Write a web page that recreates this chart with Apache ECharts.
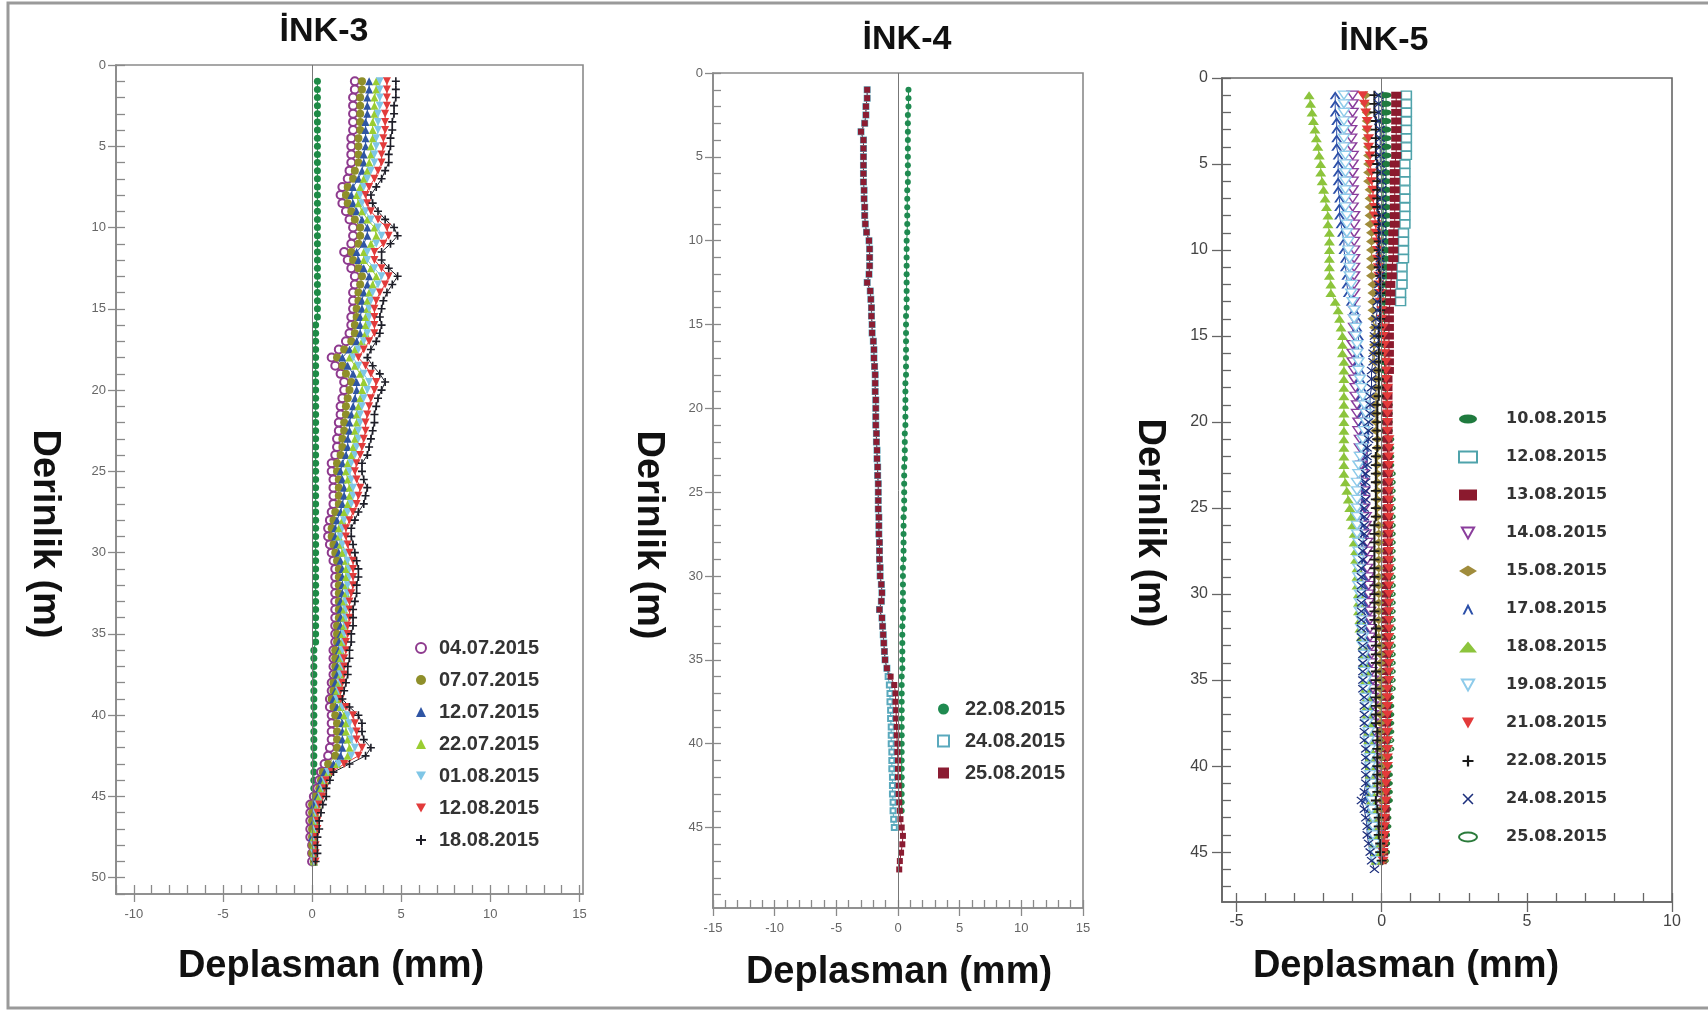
<!DOCTYPE html>
<html>
<head>
<meta charset="utf-8">
<title>İNK-3 / İNK-4 / İNK-5</title>
<script src="https://cdn.jsdelivr.net/npm/echarts@6/dist/echarts.min.js"></script>
<style>
  html, body { margin: 0; padding: 0; background: #fff; }
  #main { width: 1708px; height: 1011px; }
</style>
</head>
<body>
<div id="main"></div>
<script>
// okuma derinlikleri (m), 0.5 m aralik
const depth = [1,1.5,2,2.5,3,3.5,4,4.5,5,5.5, 6,6.5,7,7.5,8,8.5,9,9.5,10,10.5,
  11,11.5,12,12.5,13,13.5,14,14.5,15,15.5, 16,16.5,17,17.5,18,18.5,19,19.5,20,20.5,
  21,21.5,22,22.5,23,23.5,24,24.5,25,25.5, 26,26.5,27,27.5,28,28.5,29,29.5,30,30.5,
  31,31.5,32,32.5,33,33.5,34,34.5,35,35.5, 36,36.5,37,37.5,38,38.5,39,39.5,40,40.5,
  41,41.5,42,42.5,43,43.5,44,44.5,45,45.5, 46,46.5,47,47.5,48,48.5,49];

// ---- İNK-3 deplasman (mm) ----
const ink3Ref = [0.3,0.3,0.3,0.3,0.3,0.3,0.3,0.3,0.3,0.3, 0.3,0.3,0.3,0.3,0.3,0.3,0.3,0.3,0.3,0.3,
  0.3,0.3,0.3,0.3,0.3,0.3,0.3,0.3,0.3,0.3, 0.2,0.2,0.2,0.2,0.2,0.2,0.2,0.2,0.2,0.2,
  0.2,0.2,0.2,0.2,0.2,0.2,0.2,0.2,0.2,0.2, 0.2,0.2,0.2,0.2,0.2,0.2,0.2,0.2,0.2,0.2,
  0.2,0.2,0.2,0.2,0.2,0.2,0.2,0.2,0.2,0.2, 0.1,0.1,0.1,0.1,0.1,0.1,0.1,0.1,0.1,0.1,
  0.1,0.1,0.1,0.1,0.1,0.1,0.1,0.1,0.1,0.1];
const ink3_0407 = [2.4,2.4,2.3,2.3,2.3,2.3,2.3,2.2,2.2,2.2, 2.2,2.1,2.0,1.7,1.6,1.7,1.9,2.1,2.3,2.3,
  2.2,1.8,2.0,2.2,2.4,2.4,2.3,2.3,2.3,2.2, 2.2,2.1,1.9,1.5,1.1,1.3,1.6,1.8,1.8,1.7,
  1.6,1.6,1.5,1.5,1.4,1.4,1.3,1.1,1.1,1.2, 1.2,1.2,1.2,1.1,1.0,0.9,0.9,1.0,1.1,1.2,
  1.3,1.3,1.3,1.3,1.3,1.3,1.3,1.3,1.3,1.3, 1.2,1.2,1.2,1.2,1.1,1.1,1.0,1.0,1.1,1.1,
  1.1,1.1,1.0,0.9,0.7,0.5,0.4,0.3,0.1,-0.1, -0.1,-0.1,-0.1,-0.1,0.0,0.0,0.0];
const ink3_0707 = [2.8,2.8,2.7,2.7,2.7,2.7,2.7,2.6,2.6,2.6, 2.6,2.4,2.3,2.0,1.9,2.0,2.2,2.4,2.7,2.7,
  2.6,2.2,2.3,2.6,2.8,2.7,2.6,2.6,2.5,2.5, 2.4,2.4,2.2,1.8,1.4,1.7,1.9,2.2,2.1,2.0,
  1.9,1.9,1.8,1.8,1.7,1.7,1.6,1.4,1.4,1.5, 1.5,1.5,1.5,1.3,1.2,1.1,1.1,1.2,1.3,1.4,
  1.5,1.5,1.5,1.5,1.5,1.5,1.5,1.4,1.4,1.4, 1.3,1.3,1.3,1.3,1.2,1.2,1.1,1.2,1.3,1.4,
  1.4,1.4,1.4,1.3,0.9,0.6,0.5,0.4,0.2,0.0, 0.0,0.0,0.0,0.0,0.0,0.0,0.1];
const ink3_1207 = [3.2,3.2,3.1,3.1,3.1,3.0,3.0,3.0,3.0,2.9, 2.9,2.8,2.6,2.3,2.2,2.3,2.5,2.8,3.1,3.1,
  2.9,2.5,2.6,2.9,3.2,3.1,2.9,2.8,2.8,2.7, 2.7,2.7,2.5,2.1,1.7,2.0,2.3,2.5,2.5,2.4,
  2.3,2.2,2.1,2.1,2.0,2.0,1.9,1.7,1.6,1.7, 1.8,1.8,1.7,1.6,1.4,1.3,1.3,1.4,1.5,1.6,
  1.7,1.7,1.7,1.7,1.6,1.6,1.6,1.6,1.6,1.5, 1.5,1.5,1.4,1.4,1.3,1.3,1.2,1.4,1.6,1.7,
  1.7,1.7,1.7,1.6,1.2,0.7,0.5,0.4,0.3,0.1, 0.1,0.1,0.1,0.0,0.1,0.1,0.1];
const ink3_2207 = [3.6,3.6,3.5,3.5,3.5,3.4,3.4,3.4,3.3,3.3, 3.2,3.1,2.9,2.7,2.5,2.6,2.8,3.1,3.5,3.6,
  3.3,2.9,2.9,3.3,3.6,3.4,3.2,3.1,3.1,3.0, 3.0,3.0,2.8,2.4,2.1,2.4,2.7,2.9,2.8,2.7,
  2.6,2.5,2.5,2.4,2.4,2.3,2.2,2.0,1.9,2.0, 2.1,2.1,2.0,1.8,1.7,1.5,1.5,1.6,1.7,1.9,
  1.9,1.9,1.9,1.9,1.8,1.8,1.8,1.8,1.7,1.7, 1.6,1.6,1.6,1.6,1.5,1.4,1.4,1.6,1.8,1.9,
  1.9,2.0,2.1,2.0,1.4,0.9,0.7,0.5,0.4,0.3, 0.2,0.2,0.1,0.1,0.1,0.1,0.1];
const ink3_0108 = [3.8,3.8,3.8,3.8,3.7,3.7,3.7,3.6,3.6,3.5, 3.5,3.3,3.1,2.9,2.7,2.8,3.0,3.3,3.7,3.9,
  3.6,3.1,3.1,3.5,3.9,3.7,3.4,3.3,3.2,3.2, 3.2,3.1,2.9,2.6,2.3,2.6,2.9,3.2,3.1,2.9,
  2.8,2.7,2.7,2.6,2.6,2.5,2.4,2.2,2.1,2.2, 2.3,2.3,2.2,2.0,1.8,1.7,1.6,1.7,1.9,2.0,
  2.1,2.1,2.0,2.0,1.9,1.9,1.9,1.9,1.8,1.8, 1.7,1.7,1.7,1.6,1.6,1.5,1.4,1.7,2.0,2.1,
  2.2,2.2,2.4,2.2,1.5,0.9,0.7,0.6,0.5,0.3, 0.2,0.2,0.2,0.1,0.1,0.1,0.1];
const ink3_1208 = [4.2,4.2,4.2,4.2,4.1,4.1,4.1,4.0,4.0,3.9, 3.9,3.7,3.5,3.2,3.0,3.1,3.3,3.7,4.2,4.3,
  4.0,3.5,3.5,3.9,4.3,4.1,3.8,3.6,3.5,3.5, 3.5,3.5,3.2,2.9,2.6,3.0,3.3,3.6,3.5,3.3,
  3.2,3.1,3.0,3.0,2.9,2.8,2.7,2.5,2.4,2.5, 2.7,2.6,2.5,2.3,2.1,1.9,1.9,2.0,2.1,2.3,
  2.3,2.3,2.3,2.2,2.1,2.1,2.1,2.0,2.0,1.9, 1.9,1.8,1.8,1.8,1.7,1.6,1.6,1.9,2.3,2.4,
  2.5,2.5,2.8,2.6,1.8,1.1,0.8,0.7,0.6,0.4, 0.3,0.3,0.3,0.2,0.2,0.2,0.2];
const ink3_1808 = [4.7,4.7,4.7,4.6,4.6,4.5,4.5,4.4,4.4,4.3, 4.3,4.1,3.9,3.6,3.3,3.4,3.7,4.1,4.6,4.8,
  4.4,3.9,3.9,4.3,4.8,4.5,4.2,4.0,3.9,3.8, 3.9,3.8,3.6,3.3,3.1,3.4,3.8,4.1,3.9,3.7,
  3.6,3.5,3.5,3.4,3.3,3.2,3.1,2.8,2.8,2.9, 3.1,3.0,2.9,2.6,2.4,2.2,2.2,2.3,2.4,2.5,
  2.6,2.6,2.5,2.5,2.4,2.3,2.3,2.3,2.2,2.2, 2.1,2.1,2.0,2.0,1.9,1.8,1.7,2.1,2.6,2.8,
  2.8,2.9,3.3,3.0,2.1,1.2,1.0,0.8,0.8,0.6, 0.5,0.4,0.4,0.3,0.3,0.3,0.2];

// ---- İNK-4 deplasman (mm) ----
const ink4_2208 = [0.85,0.85,0.85,0.8,0.8,0.8,0.8,0.8,0.8,0.8, 0.8,0.8,0.75,0.75,0.75,0.75,0.75,0.75,0.7,0.7,
  0.7,0.7,0.7,0.7,0.7,0.7,0.7,0.65,0.65,0.65, 0.65,0.65,0.65,0.65,0.65,0.6,0.6,0.6,0.6,0.6,
  0.6,0.55,0.55,0.55,0.55,0.5,0.5,0.5,0.5,0.5, 0.5,0.45,0.45,0.45,0.45,0.45,0.45,0.4,0.4,0.4,
  0.4,0.4,0.4,0.4,0.35,0.35,0.35,0.35,0.35,0.35, 0.3,0.3,0.3,0.3,0.3,0.3,0.3,0.3,0.3,0.3,
  0.3,0.3,0.3,0.3,0.3,0.3,0.3];
const ink4_2408 = [-2.5,-2.5,-2.6,-2.6,-2.7,-3.0,-2.8,-2.8,-2.8,-2.8, -2.8,-2.8,-2.75,-2.75,-2.7,-2.7,-2.65,-2.55,-2.35,-2.3,
  -2.3,-2.3,-2.35,-2.5,-2.25,-2.2,-2.15,-2.15,-2.1,-2.1, -2.0,-1.95,-1.95,-1.9,-1.85,-1.85,-1.85,-1.8,-1.8,-1.8,
  -1.8,-1.75,-1.75,-1.7,-1.7,-1.65,-1.65,-1.6,-1.6,-1.6, -1.6,-1.55,-1.55,-1.55,-1.5,-1.5,-1.5,-1.45,-1.45,-1.35,
  -1.3,-1.35,-1.5,-1.3,-1.25,-1.2,-1.15,-1.1,-1.05,-0.9, -0.8,-0.7,-0.65,-0.65,-0.6,-0.6,-0.55,-0.55,-0.55,-0.5,
  -0.5,-0.5,-0.45,-0.45,-0.45,-0.4,-0.4,-0.35,-0.3];
const ink4_2508 = [-2.5,-2.5,-2.6,-2.6,-2.7,-3.0,-2.8,-2.8,-2.8,-2.8, -2.8,-2.8,-2.75,-2.75,-2.7,-2.7,-2.65,-2.55,-2.35,-2.3,
  -2.3,-2.3,-2.35,-2.5,-2.25,-2.2,-2.15,-2.15,-2.1,-2.1, -2.0,-1.95,-1.95,-1.9,-1.85,-1.85,-1.85,-1.8,-1.8,-1.8,
  -1.8,-1.75,-1.75,-1.7,-1.7,-1.65,-1.65,-1.6,-1.6,-1.6, -1.6,-1.55,-1.55,-1.55,-1.5,-1.5,-1.5,-1.45,-1.45,-1.35,
  -1.3,-1.35,-1.5,-1.3,-1.25,-1.2,-1.15,-1.1,-1.05,-0.9, -0.6,-0.3,-0.2,-0.2,-0.15,-0.15,-0.1,-0.1,-0.05,-0.05,
  0.0,0.0,0.0,0.05,0.05,0.1,0.15,0.2,0.3,0.4, 0.35,0.25,0.15,0.1];

// ---- İNK-5 deplasman (mm) ----
const ink5_1008 = [0.15,0.15,0.15,0.15,0.15,0.15,0.15,0.15,0.15,0.15, 0.15,0.15,0.15,0.15,0.15,0.15,0.15,0.15,0.15,0.15,
  0.15,0.15,0.15,0.15,0.1,0.1,0.1,0.1,0.1,0.1, 0.1,0.1,0.1,0.1,0.1,0.15,0.15,0.15,0.15,0.15,
  0.15,0.2,0.2,0.2,0.2,0.2,0.2,0.2,0.2,0.2, 0.2,0.2,0.2,0.2,0.2,0.2,0.2,0.2,0.2,0.2,
  0.2,0.2,0.2,0.2,0.2,0.2,0.2,0.2,0.2,0.2, 0.2,0.2,0.2,0.2,0.2,0.15,0.15,0.15,0.15,0.15,
  0.15,0.15,0.15,0.1,0.1,0.1,0.1,0.1,0.1,0.05];
const ink5_1208 = [0.85,0.85,0.85,0.85,0.85,0.85,0.85,0.85,0.8,0.8, 0.8,0.8,0.8,0.8,0.8,0.8,0.75,0.75,0.75,0.75,
  0.7,0.7,0.7,0.65,0.65];
const ink5_1308 = [0.5,0.5,0.5,0.5,0.5,0.5,0.5,0.5,0.45,0.45, 0.45,0.45,0.45,0.45,0.45,0.45,0.4,0.4,0.4,0.4,
  0.35,0.35,0.3,0.3,0.3,0.25,0.25,0.25,0.25,0.25, 0.25,0.25,0.25,0.2,0.2,0.2,0.2,0.2,0.2,0.2,
  0.2,0.2,0.2,0.2,0.2,0.2,0.2,0.2,0.2,0.2, 0.2,0.2,0.2,0.2,0.2,0.2,0.15,0.15,0.15,0.15,
  0.15,0.15,0.15,0.15,0.15,0.15,0.15,0.15,0.15,0.15, 0.15,0.15,0.15,0.15,0.1,0.1,0.1,0.1,0.1,0.1,
  0.1,0.1,0.1,0.1,0.1,0.05,0.05,0.05,0.05,0.0];
const ink5_1408 = [-1.0,-1.0,-1.0,-1.05,-1.05,-1.05,-1.05,-1.0,-1.0,-1.0, -1.0,-1.0,-1.0,-1.0,-0.95,-0.95,-0.95,-0.95,-0.95,-0.95,
  -0.95,-0.95,-0.95,-0.95,-0.95,-0.95,-0.95,-0.95,-0.95,-1.0, -1.0,-1.0,-0.95,-0.95,-0.9,-0.9,-0.85,-0.85,-0.8,-0.8,
  -0.75,-0.75,-0.7,-0.7,-0.65,-0.65,-0.6,-0.6,-0.6,-0.55, -0.55,-0.55,-0.5,-0.5,-0.5,-0.5,-0.45,-0.45,-0.45,-0.45,
  -0.4,-0.4,-0.4,-0.4,-0.35,-0.35,-0.35,-0.35,-0.3,-0.3, -0.3,-0.3,-0.3,-0.3,-0.25,-0.25,-0.25,-0.25,-0.25,-0.25,
  -0.2,-0.2,-0.2,-0.2,-0.2,-0.2,-0.15,-0.15,-0.15,-0.1];
const ink5_1508 = [-0.55,-0.55,-0.5,-0.5,-0.5,-0.5,-0.45,-0.45,-0.45,-0.45, -0.45,-0.4,-0.4,-0.4,-0.4,-0.4,-0.35,-0.35,-0.35,-0.35,
  -0.35,-0.35,-0.3,-0.3,-0.3,-0.3,-0.3,-0.25,-0.25,-0.25, -0.25,-0.25,-0.2,-0.2,-0.2,-0.2,-0.2,-0.2,-0.2,-0.2,
  -0.15,-0.15,-0.15,-0.15,-0.15,-0.15,-0.15,-0.15,-0.15,-0.15, -0.1,-0.1,-0.1,-0.1,-0.1,-0.1,-0.1,-0.1,-0.1,-0.1,
  -0.1,-0.1,-0.1,-0.1,-0.05,-0.05,-0.05,-0.05,-0.05,-0.05, -0.05,-0.05,-0.05,-0.05,-0.05,-0.05,-0.05,0.0,0.0,0.0,
  0.0,0.0,0.0,0.0,0.0,0.0,0.0,0.05,0.05,0.05];
const ink5_1708 = [-1.6,-1.6,-1.6,-1.55,-1.55,-1.55,-1.55,-1.5,-1.5,-1.5, -1.5,-1.5,-1.45,-1.45,-1.45,-1.4,-1.35,-1.3,-1.3,-1.25,
  -1.25,-1.2,-1.2,-1.15,-1.05,-0.95,-0.85,-0.85,-0.8,-0.8, -0.8,-0.8,-0.75,-0.75,-0.7,-0.7,-0.65,-0.65,-0.65,-0.6,
  -0.6,-0.6,-0.65,-0.65,-0.65,-0.7,-0.7,-0.7,-0.7,-0.7, -0.7,-0.7,-0.7,-0.7,-0.7,-0.7,-0.65,-0.65,-0.65,-0.65,
  -0.6,-0.6,-0.6,-0.6,-0.55,-0.55,-0.55,-0.5,-0.5,-0.5, -0.45,-0.45,-0.45,-0.4,-0.4,-0.4,-0.4,-0.35,-0.35,-0.35,
  -0.4,-0.45,-0.55,-0.4,-0.35,-0.35,-0.3,-0.25,-0.2,-0.15];
const ink5_1808 = [-2.5,-2.45,-2.4,-2.35,-2.3,-2.25,-2.2,-2.15,-2.1,-2.1, -2.05,-2.0,-1.95,-1.9,-1.85,-1.85,-1.8,-1.8,-1.8,-1.8,
  -1.8,-1.8,-1.75,-1.75,-1.6,-1.5,-1.45,-1.4,-1.35,-1.35, -1.35,-1.3,-1.3,-1.3,-1.3,-1.3,-1.3,-1.3,-1.3,-1.3,
  -1.3,-1.3,-1.3,-1.3,-1.3,-1.25,-1.2,-1.15,-1.1,-1.05, -1.0,-0.95,-0.95,-0.9,-0.9,-0.85,-0.85,-0.85,-0.8,-0.8,
  -0.8,-0.75,-0.75,-0.7,-0.65,-0.6,-0.6,-0.55,-0.55,-0.55, -0.5,-0.5,-0.5,-0.45,-0.45,-0.45,-0.4,-0.4,-0.4,-0.4,
  -0.35,-0.35,-0.35,-0.3,-0.3,-0.3,-0.25,-0.25,-0.2,-0.2];
const ink5_1908 = [-1.3,-1.3,-1.3,-1.3,-1.3,-1.3,-1.3,-1.25,-1.25,-1.25, -1.25,-1.25,-1.25,-1.25,-1.2,-1.2,-1.2,-1.15,-1.15,-1.1,
  -1.1,-1.1,-1.05,-1.05,-1.0,-0.95,-0.95,-0.9,-0.9,-0.85, -0.85,-0.8,-0.8,-0.75,-0.7,-0.65,-0.6,-0.55,-0.55,-0.6,
  -0.65,-0.7,-0.75,-0.8,-0.8,-0.85,-0.85,-0.85,-0.85,-0.85, -0.85,-0.85,-0.8,-0.8,-0.8,-0.8,-0.8,-0.8,-0.75,-0.75,
  -0.75,-0.7,-0.7,-0.65,-0.65,-0.6,-0.6,-0.6,-0.55,-0.55, -0.55,-0.5,-0.5,-0.5,-0.45,-0.45,-0.4,-0.4,-0.4,-0.4,
  -0.35,-0.35,-0.35,-0.35,-0.3,-0.3,-0.3,-0.25,-0.25,-0.2];
const ink5_2108 = [-0.65,-0.6,-0.55,-0.5,-0.5,-0.45,-0.45,-0.4,-0.4,-0.35, -0.35,-0.3,-0.3,-0.25,-0.25,-0.2,-0.2,-0.15,-0.15,-0.15,
  -0.12,-0.1,-0.1,-0.05,-0.05,0.0,0.0,0.05,0.05,0.1, 0.1,0.15,0.15,0.15,0.2,0.2,0.2,0.2,0.2,0.2,
  0.25,0.25,0.25,0.25,0.25,0.25,0.25,0.25,0.25,0.25, 0.25,0.25,0.25,0.25,0.25,0.25,0.25,0.25,0.25,0.25,
  0.25,0.25,0.25,0.25,0.25,0.25,0.25,0.25,0.25,0.2, 0.2,0.2,0.2,0.2,0.2,0.2,0.2,0.2,0.2,0.15,
  0.15,0.15,0.15,0.1,0.1,0.1,0.1,0.1,0.05,0.05];
const ink5_2208 = [-0.25,-0.25,-0.25,-0.2,-0.2,-0.2,-0.2,-0.2,-0.15,-0.15, -0.15,-0.15,-0.15,-0.15,-0.1,-0.1,-0.1,-0.1,-0.1,-0.1,
  -0.1,-0.05,-0.05,-0.05,-0.05,-0.05,-0.05,-0.1,-0.1,-0.1, -0.1,-0.1,-0.1,-0.1,-0.1,-0.1,-0.15,-0.15,-0.15,-0.15,
  -0.15,-0.15,-0.2,-0.2,-0.2,-0.2,-0.2,-0.2,-0.2,-0.2, -0.25,-0.25,-0.25,-0.25,-0.25,-0.25,-0.25,-0.25,-0.25,-0.25,
  -0.25,-0.25,-0.2,-0.2,-0.2,-0.2,-0.2,-0.2,-0.2,-0.2, -0.2,-0.2,-0.2,-0.2,-0.15,-0.15,-0.15,-0.15,-0.15,-0.15,
  -0.15,-0.15,-0.2,-0.15,-0.1,-0.1,-0.1,-0.05,-0.05,0.0];
const ink5_2408 = [-0.1,-0.1,-0.1,-0.1,-0.05,-0.05,-0.05,-0.05,-0.05,0.0, 0.0,0.0,0.0,0.0,0.0,0.0,0.0,0.0,-0.05,-0.05,
  -0.05,-0.05,-0.1,-0.1,-0.15,-0.15,-0.2,-0.2,-0.25,-0.25, -0.3,-0.3,-0.35,-0.35,-0.35,-0.4,-0.4,-0.4,-0.45,-0.45,
  -0.45,-0.5,-0.5,-0.5,-0.55,-0.55,-0.55,-0.55,-0.6,-0.6, -0.6,-0.6,-0.65,-0.65,-0.65,-0.7,-0.7,-0.7,-0.7,-0.7,
  -0.7,-0.7,-0.7,-0.7,-0.65,-0.65,-0.65,-0.65,-0.65,-0.65, -0.6,-0.6,-0.6,-0.6,-0.6,-0.6,-0.55,-0.55,-0.55,-0.55,
  -0.55,-0.6,-0.7,-0.6,-0.55,-0.5,-0.5,-0.45,-0.4,-0.35, -0.25];
const ink5_2508 = [0.05,0.05,0.05,0.05,0.05,0.05,0.05,0.05,0.05,0.05, 0.05,0.05,0.05,0.05,0.05,0.05,0.05,0.05,0.05,0.05,
  0.05,0.05,0.05,0.05,0.05,0.05,0.1,0.1,0.1,0.1, 0.1,0.1,0.15,0.15,0.15,0.15,0.2,0.2,0.2,0.2,
  0.25,0.25,0.25,0.25,0.3,0.3,0.3,0.3,0.3,0.3, 0.3,0.3,0.3,0.3,0.3,0.3,0.3,0.3,0.3,0.3,
  0.3,0.3,0.3,0.3,0.3,0.3,0.3,0.3,0.3,0.3, 0.25,0.25,0.25,0.25,0.25,0.25,0.25,0.2,0.2,0.2,
  0.2,0.2,0.2,0.15,0.15,0.15,0.1,0.1,0.1,0.05];

// eksen tikleri
const ink3XMajor = [-10, -5, 0, 5, 10, 15];
const ink3XMinor = [-11,-10,-9,-8,-7,-6,-5,-4,-3,-2,-1,0,1,2,3,4,5,6,7,8,9,10,11,12,13,14,15];
const ink3YMajor = [0, 5, 10, 15, 20, 25, 30, 35, 40, 45, 50];
const ink3YMinor = [0,1,2,3,4,5,6,7,8,9,10,11,12,13,14,15,16,17,18,19,20,21,22,23,24,25,26,27,28,29,30,
  31,32,33,34,35,36,37,38,39,40,41,42,43,44,45,46,47,48,49,50,51];
const ink4XMajor = [-15, -10, -5, 0, 5, 10, 15];
const ink4XMinor = [-15,-14,-13,-12,-11,-10,-9,-8,-7,-6,-5,-4,-3,-2,-1,0,1,2,3,4,5,6,7,8,9,10,11,12,13,14,15];
const ink4YMajor = [0, 5, 10, 15, 20, 25, 30, 35, 40, 45];
const ink4YMinor = [0,1,2,3,4,5,6,7,8,9,10,11,12,13,14,15,16,17,18,19,20,21,22,23,24,25,26,27,28,29,30,
  31,32,33,34,35,36,37,38,39,40,41,42,43,44,45,46,47,48,49];
const ink5XMajor = [-5, 0, 5, 10];
const ink5XMinor = [-5,-4,-3,-2,-1,0,1,2,3,4,5,6,7,8,9,10];
const ink5YMajor = [0, 5, 10, 15, 20, 25, 30, 35, 40, 45];
const ink5YMinor = [0,1,2,3,4,5,6,7,8,9,10,11,12,13,14,15,16,17,18,19,20,21,22,23,24,25,26,27,28,29,30,
  31,32,33,34,35,36,37,38,39,40,41,42,43,44,45,46,47];

const FONT = '"Liberation Sans", Arial, sans-serif';

// semboller
const INV_TRI = 'path://M0,0 L10,0 L5,9 Z';
const PLUS = 'path://M4,0 H6 V4 H10 V6 H6 V10 H4 V6 H0 V4 H4 Z';
const CROSS = 'path://M0,1 L1,0 L5,4 L9,0 L10,1 L6,5 L10,9 L9,10 L5,6 L1,10 L0,9 L4,5 Z';
const CARET = 'path://M0,10 L5,0 L10,10 L8,10 L5,4 L2,10 Z';
const ELLIPSE = 'path://M0,5 A10,5 0 1,0 20,5 A10,5 0 1,0 0,5 Z';

function pts(vals) {
  return vals.map((v, i) => [v, depth[i]]);
}

function makeAxes(dim, grid, min, max, major, minor, o) {
  const isY = dim === 'y';
  const main = {
    gridIndex: grid, type: 'value', min: min, max: max, inverse: isY,
    position: isY ? 'left' : 'bottom',
    axisLine: { show: true, onZero: false, lineStyle: { color: o.color, width: 1.6 } },
    axisTick: { show: true, inside: false, length: o.majorLen, customValues: major,
      lineStyle: { color: o.color, width: 1.3 } },
    axisLabel: { show: true, customValues: major, margin: o.margin, color: o.labelColor,
      fontSize: o.fontSize, fontFamily: FONT },
    splitLine: { show: false }
  };
  const small = {
    gridIndex: grid, type: 'value', min: min, max: max, inverse: isY,
    position: isY ? 'left' : 'bottom',
    axisLine: { show: false, onZero: false },
    axisTick: { show: true, inside: true, length: o.minorLen, customValues: minor,
      lineStyle: { color: o.color, width: 1.3 } },
    axisLabel: { show: false },
    splitLine: { show: false }
  };
  return [main, small];
}

function ser(name, vals, axis, color, symbol, size, empty) {
  return {
    name: name, type: 'line', xAxisIndex: axis, yAxisIndex: axis,
    data: pts(vals), symbol: symbol, symbolSize: size, showSymbol: true,
    lineStyle: { color: color, width: 1 },
    itemStyle: empty ? { color: '#fff', borderColor: color, borderWidth: 1.4 } : { color: color, borderWidth: 0 },
    emphasis: { disabled: true }, animation: false
  };
}

const zeroLine = {
  silent: true, symbol: ['none', 'none'], label: { show: false },
  lineStyle: { color: '#777', width: 1, type: 'solid' },
  data: [{ xAxis: 0 }]
};

const o3 = { color: '#8a8a8a', labelColor: '#666', fontSize: 13, margin: 14, majorLen: 8, minorLen: 9 };
const o4 = { color: '#8a8a8a', labelColor: '#666', fontSize: 13, margin: 14, majorLen: 8, minorLen: 8 };
const o5 = { color: '#666', labelColor: '#444', fontSize: 16, margin: 12, majorLen: 10, minorLen: 9 };

const xAxes = [].concat(
  makeAxes('x', 0, -11, 15.2, ink3XMajor, ink3XMinor, o3),
  makeAxes('x', 1, -15, 15, ink4XMajor, ink4XMinor, o4),
  makeAxes('x', 2, -5.5, 10, ink5XMajor, ink5XMinor, o5)
);
const yAxes = [].concat(
  makeAxes('y', 0, 0, 51, ink3YMajor, ink3YMinor, Object.assign({}, o3, { margin: 10 })),
  makeAxes('y', 1, 0, 49.8, ink4YMajor, ink4YMinor, Object.assign({}, o4, { margin: 10 })),
  makeAxes('y', 2, 0, 47.9, ink5YMajor, ink5YMinor, Object.assign({}, o5, { margin: 14 }))
);

// İNK-3 serileri
const s3 = [
  ser('3|04.07.2015', ink3_0407, 0, '#8e3a8e', 'emptyCircle', 8, false),
  ser('3|07.07.2015', ink3_0707, 0, '#8f8f2a', 'circle', 8, false),
  ser('3|12.07.2015', ink3_1207, 0, '#2f55a4', 'triangle', 8, false),
  ser('3|22.07.2015', ink3_2207, 0, '#9acd32', 'triangle', 8, false),
  ser('3|01.08.2015', ink3_0108, 0, '#7fc6e6', INV_TRI, 8, false),
  ser('3|12.08.2015', ink3_1208, 0, '#e23b3b', INV_TRI, 8, false),
  ser('3|18.08.2015', ink3_1808, 0, '#1e1e28', PLUS, 8, false)
];
const ref3 = ser('3|ref', ink3Ref, 0, '#1e8a46', 'circle', 7, false);
ref3.markLine = zeroLine;

// İNK-4 serileri
const s4 = [
  ser('4|22.08.2015', ink4_2208, 2, '#1f8a50', 'circle', 6, false),
  ser('4|24.08.2015', ink4_2408, 2, '#5aa9bd', 'emptyRect', 5, false),
  ser('4|25.08.2015', ink4_2508, 2, '#8b1c32', 'rect', 6, false)
];
s4[0].markLine = zeroLine;

// İNK-5 serileri (lejant sirasi)
const s5 = [
  ser('5|10.08.2015', ink5_1008, 4, '#1f7a3e', ELLIPSE, [11, 6], false),
  ser('5|12.08.2015', ink5_1208, 4, '#4fa3ab', 'rect', [10, 8], true),
  ser('5|13.08.2015', ink5_1308, 4, '#8b1a2e', 'rect', [10, 7], false),
  ser('5|14.08.2015', ink5_1408, 4, '#8a3d9c', INV_TRI, [11, 8], true),
  ser('5|15.08.2015', ink5_1508, 4, '#a08c3c', 'diamond', [11, 8], false),
  ser('5|17.08.2015', ink5_1708, 4, '#2b4fa8', CARET, [11, 8], false),
  ser('5|18.08.2015', ink5_1808, 4, '#8cc43c', 'triangle', [11, 8], false),
  ser('5|19.08.2015', ink5_1908, 4, '#8ecbea', INV_TRI, [11, 8], true),
  ser('5|21.08.2015', ink5_2108, 4, '#e33a3a', INV_TRI, [11, 8], false),
  ser('5|22.08.2015', ink5_2208, 4, '#1a1a1a', PLUS, [10, 9], false),
  ser('5|24.08.2015', ink5_2408, 4, '#1c2f7c', CROSS, [10, 8], false),
  ser('5|25.08.2015', ink5_2508, 4, '#2a7a3a', ELLIPSE, [9, 5], true)
];
s5[0].markLine = zeroLine;
// cizim sirasi: yesil seriler altta
const s5Draw = [s5[11], s5[0]].concat(s5.slice(1, 11));

function legendData(list, icons) {
  return list.map((s, i) => ({ name: s.name, icon: icons[i] }));
}

const chart = echarts.init(document.getElementById('main'));
chart.setOption({
  backgroundColor: '#fff',
  animation: false,
  grid: [
    { left: 116, top: 65, width: 467, height: 829, show: true, borderColor: '#8a8a8a', borderWidth: 1.6, backgroundColor: 'transparent' },
    { left: 713, top: 73, width: 370, height: 835, show: true, borderColor: '#8a8a8a', borderWidth: 1.6, backgroundColor: 'transparent' },
    { left: 1222, top: 78, width: 450, height: 824, show: true, borderColor: '#666', borderWidth: 1.6, backgroundColor: 'transparent' }
  ],
  xAxis: xAxes,
  yAxis: yAxes,
  legend: [
    {
      orient: 'vertical', left: 415, top: 638, padding: 0, itemGap: 12, itemWidth: 10, itemHeight: 10,
      selectedMode: false,
      data: legendData(s3, ['emptyCircle', 'circle', 'triangle', 'triangle', INV_TRI, INV_TRI, PLUS]),
      formatter: n => n.split('|')[1],
      textStyle: { fontFamily: FONT, fontWeight: 'bold', fontSize: 20, lineHeight: 20, color: '#333', padding: [0, 0, 0, 8] }
    },
    {
      orient: 'vertical', left: 937, top: 699, padding: 0, itemGap: 12, itemWidth: 11, itemHeight: 11,
      selectedMode: false,
      data: legendData(s4, ['circle', 'emptyRect', 'rect']),
      formatter: n => n.split('|')[1],
      textStyle: { fontFamily: FONT, fontWeight: 'bold', fontSize: 20, lineHeight: 20, color: '#333', padding: [0, 0, 0, 11] }
    },
    {
      orient: 'vertical', left: 1458, top: 410, padding: 0, itemGap: 20, itemWidth: 18, itemHeight: 11,
      selectedMode: false,
      data: legendData(s5, [ELLIPSE, 'rect', 'rect', INV_TRI, 'diamond', CARET, 'triangle', INV_TRI, INV_TRI, PLUS, CROSS, ELLIPSE]),
      formatter: n => n.split('|')[1],
      textStyle: { fontFamily: '"DejaVu Sans", sans-serif', fontWeight: 'bold', fontSize: 16, lineHeight: 18, color: '#333', padding: [0, 0, 0, 24] }
    }
  ],
  graphic: [
    { type: 'rect', silent: true, shape: { x: 8, y: 3, width: 1760, height: 1005 }, style: { fill: 'none', stroke: '#9a9a9a', lineWidth: 3 } },
    { type: 'text', x: 324, y: 32, style: { text: 'İNK-3', fontSize: 34, fontWeight: 'bold', fontFamily: FONT, fill: '#111', align: 'center', verticalAlign: 'middle' } },
    { type: 'text', x: 907, y: 40, style: { text: 'İNK-4', fontSize: 34, fontWeight: 'bold', fontFamily: FONT, fill: '#111', align: 'center', verticalAlign: 'middle' } },
    { type: 'text', x: 1384, y: 41, style: { text: 'İNK-5', fontSize: 34, fontWeight: 'bold', fontFamily: FONT, fill: '#111', align: 'center', verticalAlign: 'middle' } },
    { type: 'text', x: 331, y: 967, style: { text: 'Deplasman (mm)', fontSize: 38, fontWeight: 'bold', fontFamily: FONT, fill: '#111', align: 'center', verticalAlign: 'middle' } },
    { type: 'text', x: 899, y: 973, style: { text: 'Deplasman (mm)', fontSize: 38, fontWeight: 'bold', fontFamily: FONT, fill: '#111', align: 'center', verticalAlign: 'middle' } },
    { type: 'text', x: 1406, y: 967, style: { text: 'Deplasman (mm)', fontSize: 38, fontWeight: 'bold', fontFamily: FONT, fill: '#111', align: 'center', verticalAlign: 'middle' } },
    { type: 'text', x: 44, y: 534, rotation: -Math.PI / 2, style: { text: 'Derinlik (m)', fontSize: 38, fontWeight: 'bold', fontFamily: FONT, fill: '#111', align: 'center', verticalAlign: 'middle' } },
    { type: 'text', x: 648, y: 535, rotation: -Math.PI / 2, style: { text: 'Derinlik (m)', fontSize: 38, fontWeight: 'bold', fontFamily: FONT, fill: '#111', align: 'center', verticalAlign: 'middle' } },
    { type: 'text', x: 1149, y: 523, rotation: -Math.PI / 2, style: { text: 'Derinlik (m)', fontSize: 38, fontWeight: 'bold', fontFamily: FONT, fill: '#111', align: 'center', verticalAlign: 'middle' } }
  ],
  series: [ref3].concat(s3, s4, s5Draw)
});
</script>
</body>
</html>
